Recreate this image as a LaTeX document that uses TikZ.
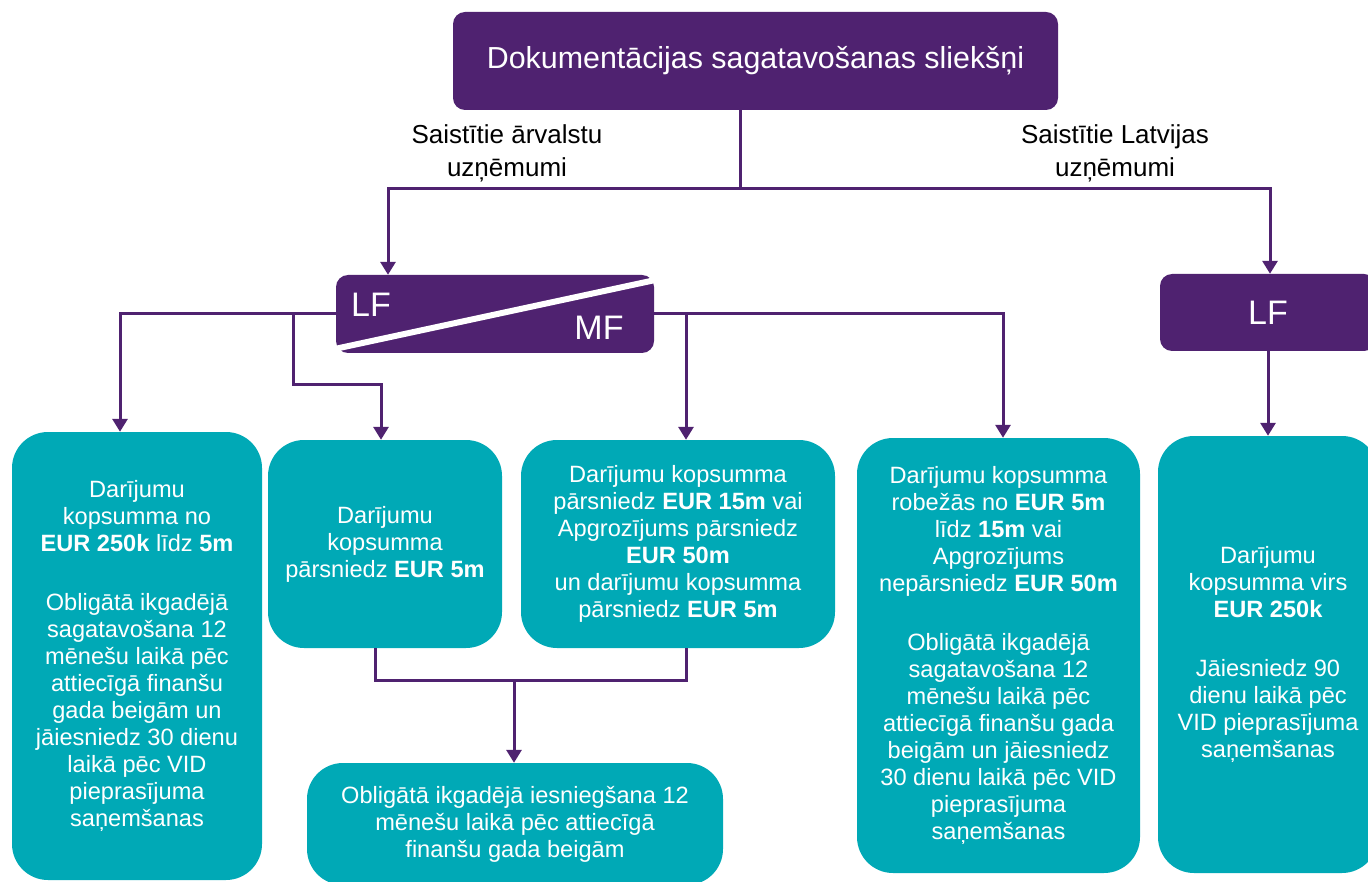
\documentclass[tikz,border=0pt]{standalone}
\usepackage{fontspec}
\setmainfont{Liberation Sans}
\usepackage{tikz}
\usetikzlibrary{positioning,arrows.meta,calc}
\definecolor{vidpurple}{RGB}{79,34,112}
\definecolor{vidteal}{RGB}{0,169,182}
\newcommand{\bodysize}{\fontsize{23.6}{27}\selectfont}

\begin{document}
\begin{tikzpicture}[x=1pt,y=-1pt,
    wire/.style={draw=vidpurple,line width=3pt},
    arrow/.style={wire,-{Triangle[length=13pt,width=15pt]}},
    head/.style={fill=vidpurple,text=white,rounded corners=12pt,inner sep=0pt},
    infobox/.style={fill=vidteal,text=white,rounded corners=36pt,inner sep=0pt,
                    align=center,font=\bodysize},
    tag/.style={align=center,font=\fontsize{26}{33}\selectfont}]
  \useasboundingbox (0,0) rectangle (1368,882);

  \node[head,minimum width=605pt,minimum height=98pt,font=\fontsize{30.4}{36}\selectfont]
       (title) at (755.5,61) {Dokumentācijas sagatavošanas sliekšņi};
  \node[head,minimum width=318pt,minimum height=78pt] (lfmf) at (495,314) {};
  \draw[white,line width=6pt] (330,350) -- (660,279);
  \node[text=white,font=\fontsize{34}{40}\selectfont] (lf) at (371,305) {LF};
  \node[text=white,font=\fontsize{34}{40}\selectfont] (mf) at (599,328) {MF};
  \node[head,minimum width=216pt,minimum height=77pt,font=\fontsize{34}{40}\selectfont]
       (lat) at (1268,312.5) {LF};

  \node[tag] (tagforeign) at (507,153) {Saistītie ārvalstu\\uzņēmumi};
  \node[tag] (taglocal)   at (1115,153) {Saistītie Latvijas\\uzņēmumi};

  \node[infobox,minimum width=250pt,minimum height=448pt] (box1) at (137,656)
       {Darījumu\\kopsumma no\\\textbf{EUR 250k} līdz \textbf{5m}\\[32pt]
        Obligātā ikgadējā\\sagatavošana 12\\mēnešu laikā pēc\\attiecīgā finanšu\\
        gada beigām un\\jāiesniedz 30 dienu\\laikā pēc VID\\pieprasījuma\\saņemšanas};
  \node[infobox,minimum width=234pt,minimum height=208pt] (box2) at (385,544)
       {Darījumu\\kopsumma\\pārsniedz \textbf{EUR 5m}};
  \node[infobox,minimum width=314pt,minimum height=208pt] (box3) at (678,544)
       {Darījumu kopsumma\\pārsniedz \textbf{EUR 15m} vai\\Apgrozījums pārsniedz\\
        \textbf{EUR 50m}\\un darījumu kopsumma\\pārsniedz \textbf{EUR 5m}};
  \node[infobox,minimum width=283pt,minimum height=435pt] (box4) at (998.5,655.5)
       {Darījumu kopsumma\\robežās no \textbf{EUR 5m}\\līdz \textbf{15m} vai\\Apgrozījums\\
        nepārsniedz \textbf{EUR 50m}\\[32pt]
        Obligātā ikgadējā\\sagatavošana 12\\mēnešu laikā pēc\\attiecīgā finanšu gada\\
        beigām un jāiesniedz\\30 dienu laikā pēc VID\\pieprasījuma\\saņemšanas};
  \node[infobox,minimum width=220pt,minimum height=437pt] (box5) at (1268,654.5)
       {Darījumu\\kopsumma virs\\\textbf{EUR 250k}\\[32pt]
        Jāiesniedz 90\\dienu laikā pēc\\VID pieprasījuma\\saņemšanas};
  \node[infobox,minimum width=416pt,minimum height=122pt] (box6) at (515,824)
       {Obligātā ikgadējā iesniegšana 12\\mēnešu laikā pēc attiecīgā\\finanšu gada beigām};

  % top split
  \coordinate (fork) at (740,189);
  \draw[wire] (title.south -| fork) -- (fork);
  \draw[arrow] (fork) -| ([xshift=-107pt]lfmf.north);
  \draw[arrow] (fork) -| ([xshift=2pt]lat.north);

  % LF / MF branches
  \coordinate (tapL) at (293,314);
  \coordinate (tapR) at (686,314);
  \draw[arrow] (lfmf.west) -| ([xshift=-17pt]box1.north);
  \draw[arrow] (tapL) -- ++(0,71) -| ([xshift=-4pt]box2.north);
  \draw[arrow] (lfmf.east) -| ([xshift=4.5pt]box4.north);
  \draw[arrow] (tapR) -- (tapR |- box3.north);
  \draw[arrow] (lat.south) -- (box5.north);

  % merge to bottom box
  \coordinate (merge) at (514,680);
  \draw[wire] ([xshift=-10pt]box2.south) |- (merge) -| ([xshift=8pt]box3.south);
  \draw[arrow] (merge) -- (merge |- box6.north);
\end{tikzpicture}
\end{document}
